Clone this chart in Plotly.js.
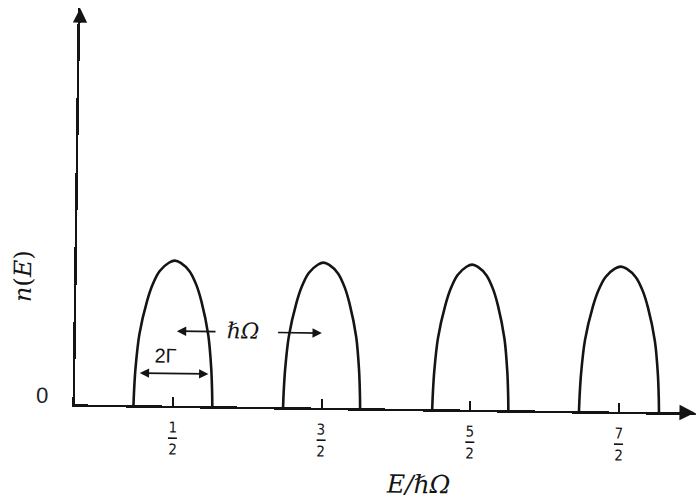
<!DOCTYPE html>
<html>
<head>
<meta charset="utf-8">
<script src="https://cdn.plot.ly/plotly-3.0.1.min.js"></script>
<style>
  html, body { margin: 0; padding: 0; background: #ffffff; overflow: hidden; }
  #chart { width: 698px; height: 501px; transform: rotate(0.77deg); transform-origin: 349px 250.5px; }
</style>
</head>
<body>
<div id="chart"></div>
<script>
// Landau levels (in units of E / hbar Omega)
const levelCenters = [0.5, 1.5, 2.5, 3.5];
const levelHeights = [1, 1, 1, 1];
const halfWidths = [0.265, 0.259, 0.256, 0.269];
const numerators = ['1', '3', '5', '7'];
const denominators = ['2', '2', '2', '2'];
// shape of one level: offset (in half-widths) vs. relative height
const profileOffset = [-1.0, -0.99, -0.96, -0.874, -0.69, -0.553, -0.38, -0.15, 0, 0.15, 0.38, 0.553, 0.69, 0.874, 0.96, 0.99, 1.0];
const profileHeight = [0, 0.1, 0.26, 0.49, 0.72, 0.835, 0.927, 0.985, 1, 0.985, 0.927, 0.835, 0.72, 0.49, 0.26, 0.1, 0];

const ink = '#141414';
const traces = levelCenters.map((c, i) => ({
  type: 'scatter',
  mode: 'lines',
  x: profileOffset.map(o => c + o * halfWidths[i]),
  y: profileHeight.map(h => h * levelHeights[i]),
  line: { color: ink, width: 2.6, shape: 'spline', smoothing: 0.8 },
  cliponaxis: false,
  hoverinfo: 'skip',
  showlegend: false
}));

const serif = 'DejaVu Serif, Liberation Serif, serif';
const sans = 'Liberation Sans, Arial, sans-serif';
const narrow = 'Liberation Sans Narrow, DejaVu Sans Condensed, Liberation Sans, sans-serif';

const annotations = [];
// axis arrowheads
annotations.push({ xref: 'paper', yref: 'paper', x: 1, y: 0, ax: -16, ay: 0, text: '', showarrow: true,
  arrowhead: 2, arrowsize: 1.4, arrowwidth: 2.2, arrowcolor: ink });
annotations.push({ xref: 'paper', yref: 'paper', x: 0, y: 1, ax: 0, ay: 16, text: '', showarrow: true,
  arrowhead: 2, arrowsize: 1.3, arrowwidth: 2.2, arrowcolor: ink });
// fraction tick labels
levelCenters.forEach((c, i) => {
  annotations.push({ xref: 'x', yref: 'paper', x: c, y: 0, yshift: -22, text: numerators[i], showarrow: false,
    xanchor: 'center', yanchor: 'middle', font: { family: narrow, size: 15, color: ink } });
  annotations.push({ xref: 'x', yref: 'paper', x: c, y: 0, yshift: -44, text: denominators[i], showarrow: false,
    xanchor: 'center', yanchor: 'middle', font: { family: narrow, size: 15, color: ink } });
});
// zero label
annotations.push({ xref: 'paper', yref: 'paper', x: 0, y: 0, xshift: -33, yshift: 8.5, text: '0', showarrow: false,
  xanchor: 'center', yanchor: 'middle', font: { family: sans, size: 22, color: '#222' } });
// axis titles
annotations.push({ xref: 'paper', yref: 'paper', x: 0, y: 0.322, xshift: -53, text: '<i>n</i>(<i>E</i>)', textangle: -90,
  showarrow: false, xanchor: 'center', yanchor: 'middle', font: { family: serif, size: 24, color: ink } });
annotations.push({ xref: 'paper', yref: 'paper', x: 0.554, y: 0, yshift: -75, text: '<i>E/ℏΩ</i>',
  showarrow: false, xanchor: 'center', yanchor: 'middle', font: { family: serif, size: 25, color: ink } });
// 2Gamma width marker
const gX = levelCenters[0];
annotations.push({ xref: 'x', yref: 'y', axref: 'x', ayref: 'y', x: gX + 0.236, y: 0.222, ax: gX - 0.236, ay: 0.222,
  text: '', showarrow: true, arrowhead: 2, startarrowhead: 2, arrowside: 'end+start', arrowsize: 1.1, arrowwidth: 1.7, arrowcolor: ink });
annotations.push({ xref: 'x', yref: 'y', x: 0.449, y: 0.348, text: '2Γ', showarrow: false,
  xanchor: 'center', yanchor: 'middle', font: { family: sans, size: 20, color: ink } });
// hbar Omega spacing marker
annotations.push({ xref: 'x', yref: 'y', axref: 'x', ayref: 'y', x: levelCenters[0] + 0.02, y: 0.514, ax: levelCenters[0] + 0.29, ay: 0.514,
  text: '', showarrow: true, arrowhead: 2, arrowsize: 1.1, arrowwidth: 1.7, arrowcolor: ink });
annotations.push({ xref: 'x', yref: 'y', axref: 'x', ayref: 'y', x: levelCenters[1] - 0.005, y: 0.514, ax: levelCenters[1] - 0.31, ay: 0.514,
  text: '', showarrow: true, arrowhead: 2, arrowsize: 1.1, arrowwidth: 1.7, arrowcolor: ink });
annotations.push({ xref: 'x', yref: 'y', x: 0.965, y: 0.518, text: '<i>ℏΩ</i>', showarrow: false,
  xanchor: 'center', yanchor: 'middle', font: { family: serif, size: 22, color: ink } });

// fraction bars
const shapes = levelCenters.map(c => ({
  type: 'line', xref: 'x', yref: 'paper', xsizemode: 'pixel', ysizemode: 'pixel',
  xanchor: c, yanchor: 0, x0: -4.5, x1: 4.5, y0: -32.5, y1: -32.5,
  line: { color: ink, width: 1.6 }
}));

const layout = {
  width: 698, height: 501,
  margin: { l: 77, r: 0, t: 12, b: 93 },
  paper_bgcolor: '#ffffff', plot_bgcolor: '#ffffff',
  showlegend: false,
  xaxis: {
    range: [-0.159, 4.017], showgrid: false, zeroline: false,
    showline: true, linecolor: ink, linewidth: 2.5,
    ticks: 'inside', tickvals: levelCenters, ticklen: 9, tickwidth: 2, tickcolor: ink,
    showticklabels: false, fixedrange: true
  },
  yaxis: {
    range: [0, 2.731], showgrid: false, zeroline: false,
    showline: true, linecolor: ink, linewidth: 2.5,
    ticks: '', showticklabels: false, fixedrange: true
  },
  annotations: annotations,
  shapes: shapes
};

Plotly.newPlot('chart', traces, layout, { staticPlot: true, displayModeBar: false });
</script>
</body>
</html>
